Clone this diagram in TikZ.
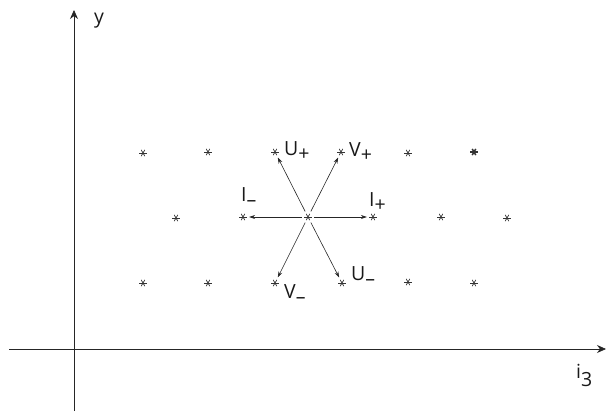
\documentclass[tikz,border=0pt]{standalone}
\usepackage{fontspec}
\setmainfont{Open Sans}
\usetikzlibrary{arrows.meta}
\tikzset{
  star/.style={circle, inner sep=0pt, minimum size=9pt,
    path picture={\foreach \a in {0,60,120}{\draw[line width=\starw, black!80]
      ([shift={(\a:3.6pt)}]path picture bounding box.center) --
      ([shift={(\a+180:3.6pt)}]path picture bounding box.center);}}},
  lbl/.style={inner sep=0pt, anchor=base west, text=black!90, font=\fontsize{19.5}{21}\selectfont},
  vec/.style={-{Stealth[length=6pt,width=4pt]}, line width=0.6pt, black!85, shorten <=1.5pt, shorten >=1.5pt},
  axis/.style={-{Stealth[length=9pt,width=8pt]}, line width=0.7pt, black!85}
}
\def\starw{0.7pt}
\newcommand{\lsub}[1]{\raisebox{-5.5pt}{#1}}
\begin{document}
\begin{tikzpicture}[x=1pt,y=-1pt]
\useasboundingbox (0,0) rectangle (606,413);
% axes
\coordinate (xs) at (9,349);
\coordinate (xe) at (606,349);
\coordinate (ys) at (74,411);
\coordinate (ye) at (74,10);
\draw[axis] (xs) -- (xe);
\draw[axis] (ys) -- (ye);
\node[lbl] (ylab) at (94,23) {y};
\node[lbl] (xlab) at (576,378) {i\raisebox{-8pt}{3}};
% top row
\node[star] (t1) at (143,153) {};
\node[star] (t2) at (208,152) {};
\node[star] (t3) at (275,152) {};
\node[star] (t4) at (341,152) {};
\node[star] (t5) at (408,153) {};
{\def\starw{1.5pt}\node[star] (t6) at (474,152) {};}
% middle row
\node[star] (m1) at (176,218) {};
\node[star] (m2) at (243,217) {};
\node[star] (m3) at (308,217) {};
\node[star] (m4) at (373,217) {};
\node[star] (m5) at (441,217) {};
\node[star] (m6) at (507,218) {};
% bottom row
\node[star] (b1) at (143,283) {};
\node[star] (b2) at (208,283) {};
\node[star] (b3) at (275,283) {};
\node[star] (b4) at (342,283) {};
\node[star] (b5) at (408,282) {};
\node[star] (b6) at (474,283) {};
% vectors
\draw[vec] (m3) -- (m2);
\draw[vec] (m3) -- (m4);
\draw[vec] (m3) -- (t3);
\draw[vec] (m3) -- (t4);
\draw[vec] (m3) -- (b3);
\draw[vec] (m3) -- (b4);
% labels
\node[lbl] (up) at (284,155) {U\lsub{+}};
\node[lbl] (vp) at (349,156) {V\lsub{+}};
\node[lbl] (im) at (241,201) {I\lsub{--}};
\node[lbl] (ip) at (369,206) {I\lsub{+}};
\node[lbl] (vm) at (284,298) {V\lsub{--}};
\node[lbl] (um) at (351,280) {U\lsub{--}};
\end{tikzpicture}
\end{document}
